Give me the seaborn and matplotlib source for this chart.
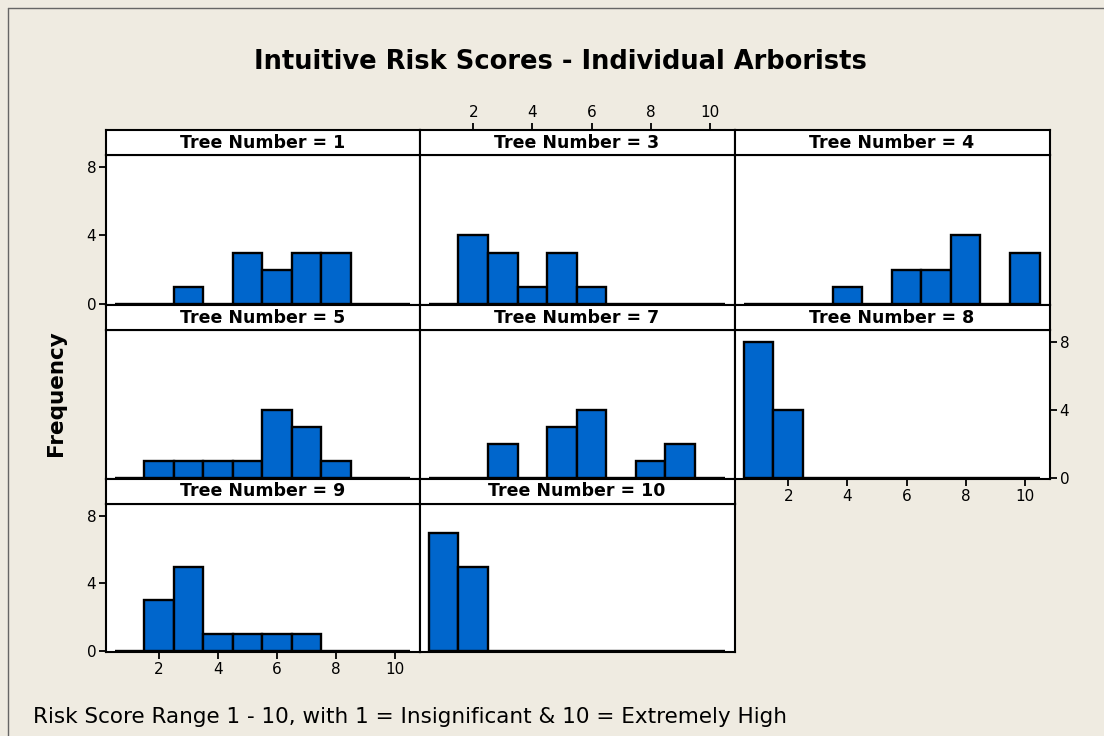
import matplotlib
matplotlib.use("Agg")
import matplotlib.pyplot as plt
from matplotlib.lines import Line2D
import seaborn as sns

# risk score bins (1 - 10) and counts per tree
scores = [1, 2, 3, 4, 5, 6, 7, 8, 9, 10]
tree_numbers = [1, 3, 4, 5, 7, 8, 9, 10]
counts_tree_1 = [0, 0, 1, 0, 3, 2, 3, 3, 0, 0]
counts_tree_3 = [0, 4, 3, 1, 3, 1, 0, 0, 0, 0]
counts_tree_4 = [0, 0, 0, 1, 0, 2, 2, 4, 0, 3]
counts_tree_5 = [0, 1, 1, 1, 1, 4, 3, 1, 0, 0]
counts_tree_7 = [0, 0, 2, 0, 3, 4, 0, 1, 2, 0]
counts_tree_8 = [8, 4, 0, 0, 0, 0, 0, 0, 0, 0]
counts_tree_9 = [0, 3, 5, 1, 1, 1, 1, 0, 0, 0]
counts_tree_10 = [7, 5, 0, 0, 0, 0, 0, 0, 0, 0]
x_ticks = [2, 4, 6, 8, 10]
y_ticks = [0, 4, 8]

counts = {1: counts_tree_1, 3: counts_tree_3, 4: counts_tree_4, 5: counts_tree_5,
          7: counts_tree_7, 8: counts_tree_8, 9: counts_tree_9, 10: counts_tree_10}

BG = "#EFEBE1"
BAR = "#0066CC"
W, H = 1104, 736

sns.set_style("white")
plt.rcParams['font.family'] = ['DejaVu Sans']
plt.rcParams['text.color'] = 'black'
plt.rcParams['xtick.color'] = 'black'
plt.rcParams['ytick.color'] = 'black'

fig = plt.figure(figsize=(W / 100, H / 100), dpi=100, facecolor=BG)


def box(x0, y0, x1, y1):
    return [x0 / W, 1 - y1 / H, (x1 - x0) / W, (y1 - y0) / H]


cols = [(106, 420), (420, 735), (735, 1050)]
rows = [(130, 155, 305), (305, 330, 479), (479, 504, 652)]
tick_size = 11

for i, (st, top, bot) in enumerate(rows):
    for j, (x0, x1) in enumerate(cols):
        k = i * 3 + j
        if k >= len(tree_numbers):
            continue
        tree = tree_numbers[k]

        ax = fig.add_axes(box(x0, top, x1, bot))
        ax.set_facecolor("white")
        sns.histplot(x=scores, weights=counts[tree], discrete=True, ax=ax,
                     color=BAR, edgecolor="black", linewidth=1.7, alpha=1)
        ax.set_xlim(0.2, 10.85)
        ax.set_ylim(-0.06, 8.7)
        ax.set_xticks(x_ticks)
        ax.set_yticks(y_ticks)
        ax.set_xlabel("")
        ax.set_ylabel("")
        for s in ax.spines.values():
            s.set_color("black")
            s.set_linewidth(1.5)

        show_left = (j == 0 and i in (0, 2))
        show_right = (j == 2 and i == 1)
        show_bottom = (i == 2 and j == 0) or (i == 1 and j == 2)
        ax.tick_params(axis='both', direction='out', length=5, width=1.3,
                       colors='black', pad=2, labelsize=tick_size,
                       left=show_left, labelleft=show_left,
                       right=show_right, labelright=show_right,
                       bottom=show_bottom, labelbottom=show_bottom,
                       top=False, labeltop=False)

        # strip header
        sx = fig.add_axes(box(x0, st, x1, top))
        sx.set_facecolor("white")
        sx.set_xlim(0.2, 10.85)
        sx.set_ylim(0, 1)
        sx.set_yticks([])
        for s in sx.spines.values():
            s.set_color("black")
            s.set_linewidth(1.5)
        sx.text(5.5, 0.5, f"Tree Number = {tree}", ha="center", va="center",
                fontsize=12.5, fontweight="bold")
        if i == 0 and j == 1:
            sx.set_xticks(x_ticks)
            sx.tick_params(axis='x', direction='out', length=5, width=1.3,
                           top=True, labeltop=True, bottom=False,
                           labelbottom=False, pad=2, labelsize=tick_size,
                           colors='black')
        else:
            sx.set_xticks([])

fig.text(560 / W, 1 - 62 / H, "Intuitive Risk Scores - Individual Arborists",
         ha="center", va="center", fontsize=18.5, fontweight="bold")
fig.text(56 / W, 1 - 393 / H, "Frequency", rotation=90, ha="center",
         va="center", fontsize=15.5, fontweight="bold")
fig.text(33 / W, 1 - 717 / H,
         "Risk Score Range 1 - 10, with 1 = Insignificant & 10 = Extremely High",
         ha="left", va="center", fontsize=15.5)

fig.add_artist(Line2D([8 / W, 8 / W], [0, 1 - 8 / H], color="#666666", lw=1))
fig.add_artist(Line2D([8 / W, 1], [1 - 8 / H, 1 - 8 / H], color="#666666", lw=1))

fig.savefig("out.png", dpi=100, facecolor=BG)
